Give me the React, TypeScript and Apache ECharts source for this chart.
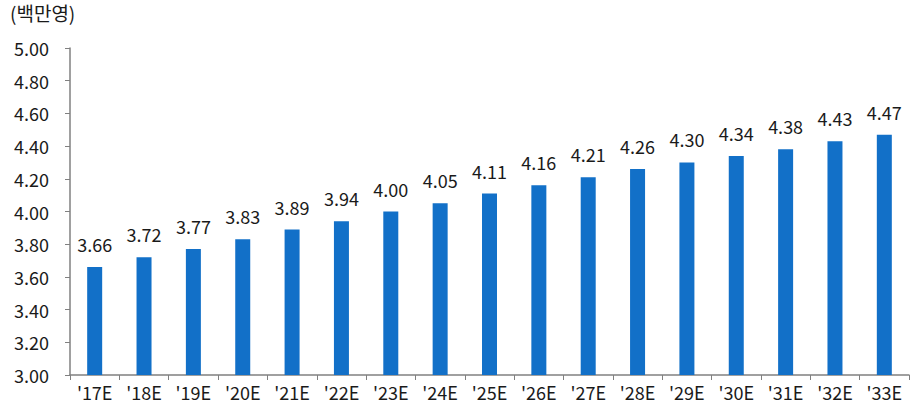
import React, { useEffect, useRef } from "react";
import * as echarts from "echarts";

const categories = ["'17E", "'18E", "'19E", "'20E", "'21E", "'22E", "'23E", "'24E", "'25E", "'26E", "'27E", "'28E", "'29E", "'30E", "'31E", "'32E", "'33E"];
const values = [3.66, 3.72, 3.77, 3.83, 3.89, 3.94, 4.0, 4.05, 4.11, 4.16, 4.21, 4.26, 4.3, 4.34, 4.38, 4.43, 4.47];
const unitLabel = "(백만영)";

const FONT = "'Noto Sans CJK KR', 'Noto Sans', sans-serif";

export default function App() {
  const ref = useRef<HTMLDivElement>(null);
  useEffect(() => {
    document.body.style.margin = "0";
    if (!ref.current) return;
    const chart = echarts.init(ref.current, undefined, { renderer: "svg" });
    chart.setOption({
      animation: false,
      textStyle: { fontFamily: FONT },
      graphic: [
        {
          type: "text",
          left: 10,
          top: 3,
          style: { text: unitLabel, fontFamily: FONT, fontSize: 19, fill: "#1a1a1a" },
        },
      ],
      grid: { left: 70, right: 6, top: 48, bottom: 33, containLabel: false },
      xAxis: {
        type: "category",
        data: categories,
        axisLine: { lineStyle: { color: "#808080", width: 1.5 } },
        axisTick: { show: true, length: 5, alignWithLabel: false, lineStyle: { color: "#808080" } },
        axisLabel: { color: "#1a1a1a", fontSize: 18, fontFamily: FONT, margin: 8 },
      },
      yAxis: {
        type: "value",
        min: 3.0,
        max: 5.0,
        interval: 0.2,
        axisLine: { show: true, lineStyle: { color: "#808080", width: 1.5 } },
        axisTick: { show: true, length: 5, lineStyle: { color: "#808080" } },
        splitLine: { show: false },
        axisLabel: {
          color: "#1a1a1a",
          fontSize: 18,
          fontFamily: FONT,
          margin: 21,
          formatter: (v: number) => v.toFixed(2),
        },
      },
      series: [
        {
          type: "bar",
          data: values,
          barWidth: 15,
          itemStyle: { color: "#1270c8" },
          label: {
            show: true,
            position: "top",
            distance: 14,
            color: "#1a1a1a",
            fontSize: 18,
            fontFamily: FONT,
            formatter: (p: any) => p.value.toFixed(2),
          },
        },
      ],
    });
    return () => chart.dispose();
  }, []);
  return <div ref={ref} style={{ width: 915, height: 408 }} />;
}
